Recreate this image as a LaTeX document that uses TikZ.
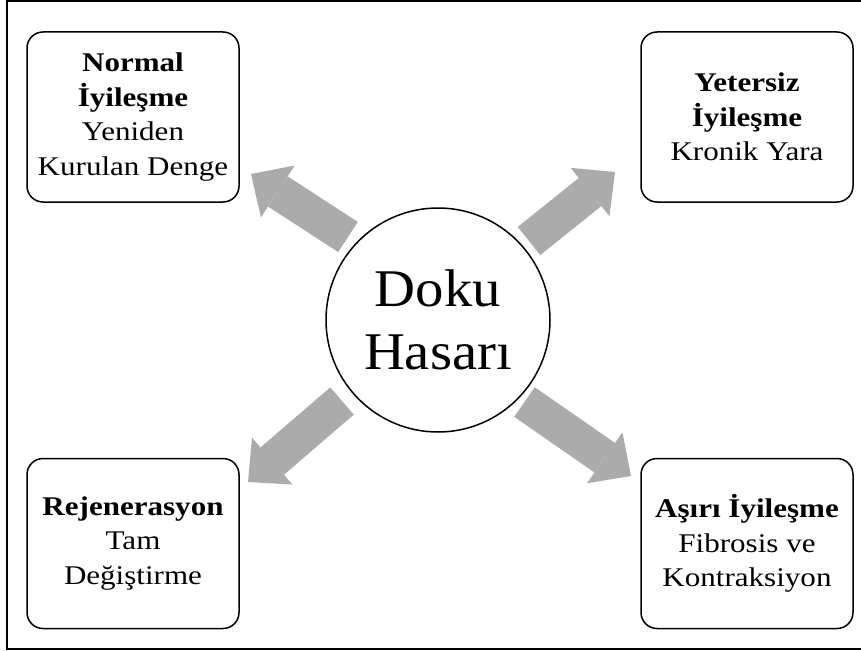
\documentclass[tikz,border=0pt]{standalone}
\usepackage{fontspec}
\setmainfont{Liberation Serif}
\newfontfamily\boxfont{Liberation Serif}[FakeStretch=1.15]
\newfontfamily\hubfont{Liberation Serif}[FakeStretch=1.07]
\usetikzlibrary{arrows.meta,positioning}

\begin{document}
\begin{tikzpicture}[
    x=1pt, y=-1pt,
    hub/.style={draw, circle, line width=1.5pt, minimum size=224pt, inner sep=0pt,
        align=center, font=\hubfont\fontsize{53}{63}\selectfont},
    outcome/.style={draw, rounded corners=16pt, line width=1.5pt, minimum width=212pt,
        minimum height=170pt, inner sep=0pt, align=center,
        font=\boxfont\fontsize{27}{34.5}\selectfont},
    bigarrow/.style={draw=black!33, line width=36pt,
        -{Triangle[length=32pt, width=62pt, line width=0pt]}},
    frame/.style={line width=2pt}
]
\useasboundingbox (0,0) rectangle (861,650);

% Outer frame
\draw[frame] (861,1.5) -- (7,1.5) -- (7,648.5) -- (861,648.5);

% Central node
\node[hub] (hasar) at (438,320) {Doku\\Hasarı};

% Outcomes
\node[outcome] (normal) at (133,117) {\textbf{Normal}\\\textbf{İyileşme}\\Yeniden\\Kurulan Denge};
\node[outcome] (yetersiz) at (747,117) {\textbf{Yetersiz}\\\textbf{İyileşme}\\Kronik Yara};
\node[outcome] (rejen) at (133,543.5) {\textbf{Rejenerasyon}\\Tam\\Değiştirme};
\node[outcome] (asiri) at (747,543.5) {\textbf{Aşırı İyileşme}\\Fibrosis ve\\Kontraksiyon};

% Arrow ends
\coordinate (nl-tail) at (348,237);
\coordinate (nl-tip) at (251,174);
\coordinate (ye-tail) at (529,241);
\coordinate (ye-tip) at (615,172);
\coordinate (re-tail) at (342,401);
\coordinate (re-tip) at (248,482);
\coordinate (as-tail) at (524.5,402);
\coordinate (as-tip) at (631,476);

% Arrows
\draw[bigarrow] (nl-tail) -- (nl-tip);
\draw[bigarrow] (ye-tail) -- (ye-tip);
\draw[bigarrow] (re-tail) -- (re-tip);
\draw[bigarrow] (as-tail) -- (as-tip);

\end{tikzpicture}
\end{document}
